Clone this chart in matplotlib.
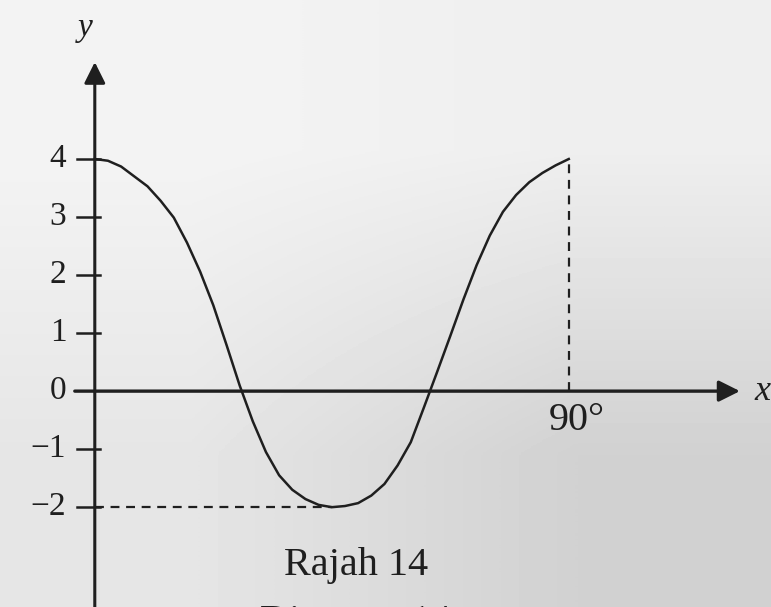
import numpy as np
import matplotlib.pyplot as plt

# curve values (x in degrees)
x_deg = [0, 2.5, 5, 7.5, 10, 12.5, 15, 17.5, 20, 22.5, 25, 27.5, 30, 32.5, 35, 37.5, 40, 42.5, 45,
         47.5, 50, 52.5, 55, 57.5, 60, 62.5, 65, 67.5, 70, 72.5, 75, 77.5, 80, 82.5, 85, 87.5, 90]
y_val = [4.0, 3.97, 3.87, 3.70, 3.53, 3.28, 2.99, 2.56, 2.06, 1.48, 0.8, 0.1, -0.52, -1.05, -1.45, -1.7, -1.86, -1.96, -2.0,
         -1.98, -1.93, -1.8, -1.6, -1.28, -0.88, -0.28, 0.33, 0.95, 1.58, 2.17, 2.68, 3.09, 3.38, 3.6, 3.76, 3.89, 4.0]

y_ticks = [4, 3, 2, 1, 0, -1, -2]
y_ticklabels = ['4', '3', '2', '1', '0', '\u22121', '\u22122']
x_mark = 90
x_marklabel = '90\u00b0'
min_point = (45, -2)
max_point = (90, 4)

ink = '#1f1f1f'
serif = ['Liberation Serif', 'DejaVu Serif']

fig = plt.figure(figsize=(7.71, 6.07), dpi=100)
ax = fig.add_axes([0, 0, 1, 1])
xlim = (-18.0, 128.4)
ylim = (-3.72, 6.74)
ax.set_xlim(xlim)
ax.set_ylim(ylim)
ax.axis('off')

# paper background (photo is lighter top-left, darker bottom-right)
bg = np.array([[0.955, 0.935], [0.90, 0.82]])
ax.imshow(bg, cmap='gray', vmin=0, vmax=1, extent=[xlim[0], xlim[1], ylim[0], ylim[1]],
          interpolation='bilinear', aspect='auto', zorder=0)

# axes with arrow heads
ax.annotate('', xy=(122.5, 0), xytext=(-3.8, 0),
            arrowprops=dict(arrowstyle='-|>', lw=2.4, color=ink, mutation_scale=32,
                            shrinkA=0, shrinkB=0), zorder=3)
ax.annotate('', xy=(0, 5.67), xytext=(0, ylim[0]),
            arrowprops=dict(arrowstyle='-|>', lw=2.2, color=ink, mutation_scale=32,
                            shrinkA=0, shrinkB=0), zorder=3)

# tick marks and labels on y axis
for v, lab in zip(y_ticks, y_ticklabels):
    if v != 0:
        ax.plot([-3.4, 1.0], [v, v], color=ink, lw=1.8, zorder=3)
    ax.text(-5.4, v, lab, ha='right', va='center', fontsize=24, color=ink, family=serif)

# the curve
ax.plot(x_deg, y_val, color=ink, lw=1.8, zorder=4, solid_joinstyle='round')

# dashed guide lines
ax.plot([x_mark, x_mark], [0, max_point[1]], color=ink, lw=1.6, ls=(0, (4, 3)), zorder=2)
ax.plot([0, min_point[0]], [min_point[1], min_point[1]], color=ink, lw=1.6, ls=(0, (4, 3)), zorder=2)

# labels
ax.text(x_mark + 1.6, -0.5, x_marklabel, ha='center', va='center', fontsize=29, color=ink, family=serif)
ax.text(-1.9, 6.26, 'y', ha='center', va='center', fontsize=24, style='italic', color=ink, family=serif)
ax.text(125.3, 0.0, 'x', ha='left', va='center', fontsize=26, style='italic', color=ink, family=serif)
ax.text(49.6, -3.0, 'Rajah 14', ha='center', va='center', fontsize=29, color=ink, family=serif)
# second caption line is cut by the bottom edge in the reference
ax.text(49.6, -3.99, 'Diagram 14', ha='center', va='center', fontsize=29, color=ink, family=serif,
        clip_on=False)

fig.savefig('out.png', dpi=100)
